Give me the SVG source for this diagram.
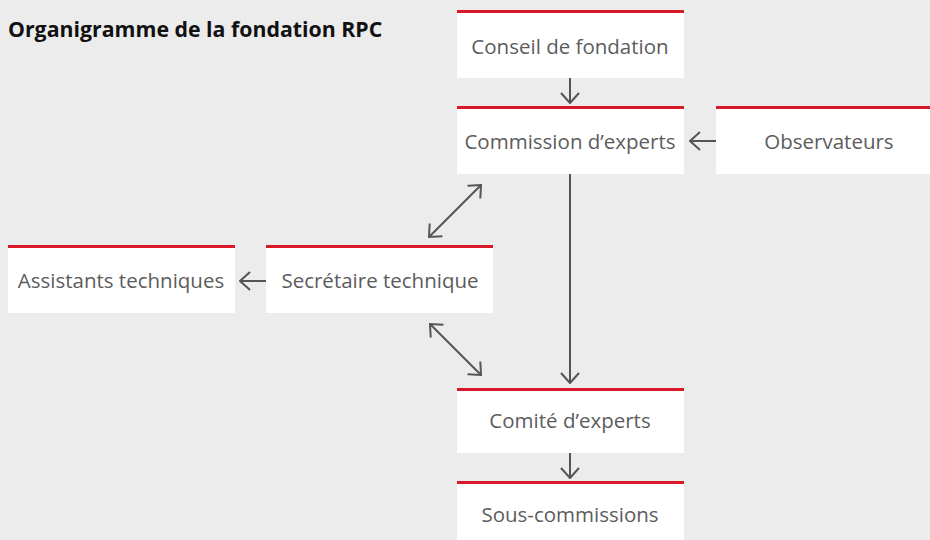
<svg xmlns="http://www.w3.org/2000/svg" width="930" height="540" viewBox="0 0 930 540">
<style>
.box{fill:#ffffff}
.bar{stroke:#d7192a;stroke-width:3}
.lbl{font-family:"Open Sans","Liberation Sans",sans-serif;font-size:20.5px;fill:#5c5c5c;text-anchor:middle}
.title{font-family:"Open Sans","Liberation Sans",sans-serif;font-size:21.3px;font-weight:bold;fill:#111}
.con{stroke:#555;stroke-width:2;fill:none}
</style>
<defs>
<marker id="ah" viewBox="0 0 12 20" refX="11" refY="10" markerWidth="12" markerHeight="20" markerUnits="userSpaceOnUse" orient="auto-start-reverse">
<path d="M1,1 L11,10 L1,19" fill="none" stroke="#555" stroke-width="2"/>
</marker>
</defs>
<rect width="930" height="540" fill="#ececec"/>
<text class="title" x="8" y="37">Organigramme de la fondation RPC</text>
<g id="conseil"><rect class="box" x="457" y="11" width="227" height="67"/><line class="bar" x1="457" y1="11.5" x2="684" y2="11.5"/><text class="lbl" x="570" y="54">Conseil de fondation</text></g>
<g id="commission"><rect class="box" x="457" y="107" width="227" height="67"/><line class="bar" x1="457" y1="107.5" x2="684" y2="107.5"/><text class="lbl" x="570" y="149">Commission d’experts</text></g>
<g id="observateurs"><rect class="box" x="716" y="107" width="214" height="67"/><line class="bar" x1="716" y1="107.5" x2="930" y2="107.5"/><text class="lbl" x="829" y="149">Observateurs</text></g>
<g id="assistants"><rect class="box" x="8" y="246" width="227" height="67"/><line class="bar" x1="8" y1="246.5" x2="235" y2="246.5"/><text class="lbl" x="121" y="288">Assistants techniques</text></g>
<g id="secretaire"><rect class="box" x="266" y="246" width="227" height="67"/><line class="bar" x1="266" y1="246.5" x2="493" y2="246.5"/><text class="lbl" x="380" y="288">Secrétaire technique</text></g>
<g id="comite"><rect class="box" x="457" y="389" width="227" height="64"/><line class="bar" x1="457" y1="389.5" x2="684" y2="389.5"/><text class="lbl" x="570" y="428">Comité d’experts</text></g>
<g id="souscommissions"><rect class="box" x="457" y="482" width="227" height="58"/><line class="bar" x1="457" y1="482.5" x2="684" y2="482.5"/><text class="lbl" x="570" y="522">Sous-commissions</text></g>
<g id="connectors">
<line class="con" x1="570" y1="78" x2="570" y2="103" marker-end="url(#ah)"/>
<line class="con" x1="716" y1="141" x2="690" y2="141" marker-end="url(#ah)"/>
<line class="con" x1="266" y1="281" x2="240" y2="281" marker-end="url(#ah)"/>
<line class="con" x1="570" y1="174" x2="570" y2="383" marker-end="url(#ah)"/>
<line class="con" x1="570" y1="453" x2="570" y2="478" marker-end="url(#ah)"/>
<line class="con" x1="481" y1="185" x2="429" y2="237" marker-start="url(#ah)" marker-end="url(#ah)"/>
<line class="con" x1="430" y1="324" x2="481" y2="375" marker-start="url(#ah)" marker-end="url(#ah)"/>
</g>
</svg>
